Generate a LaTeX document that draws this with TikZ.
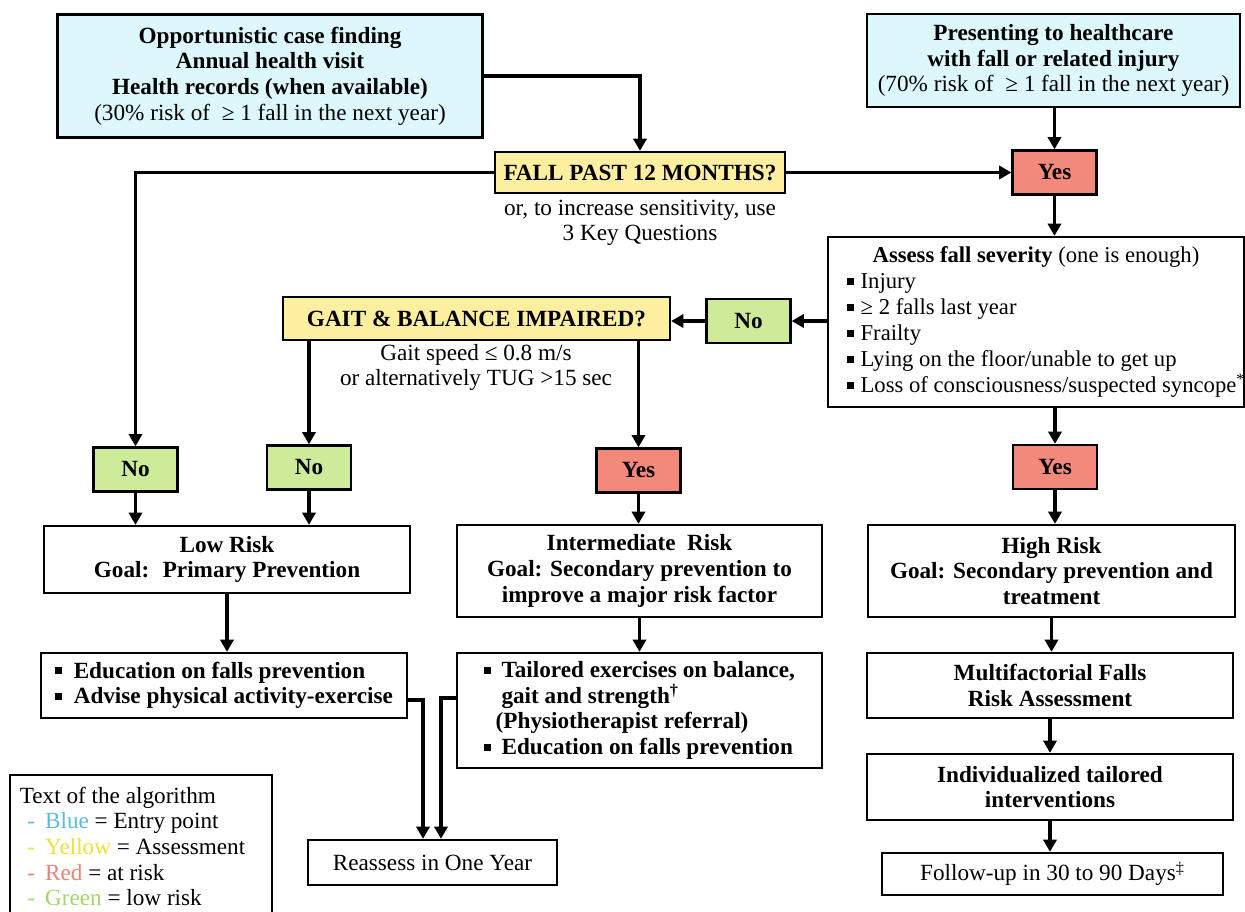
\documentclass[tikz,border=0pt]{standalone}
\usepackage{fontspec}
\setmainfont{Liberation Serif}
\usetikzlibrary{arrows.meta}
\usetikzlibrary{calc}

\definecolor{entryblue}{HTML}{DCF8FC}
\definecolor{askyellow}{HTML}{FCEFA0}
\definecolor{riskred}{HTML}{F2897B}
\definecolor{lowgreen}{HTML}{CDEB98}
\definecolor{legblue}{HTML}{5DBCDB}
\definecolor{legyellow}{HTML}{EEE03A}
\definecolor{legred}{HTML}{E5857A}
\definecolor{leggreen}{HTML}{A3D668}

\newcommand{\sqb}{\rule[0.17em]{0.3em}{0.3em}}

\begin{document}
\begin{tikzpicture}[x=0.02cm, y=-0.02cm,
    every node/.style={font=\fontsize{13.2}{14.6}\selectfont},
    box/.style={draw, line width=1.3pt, align=center, inner sep=0pt},
    entrybox/.style={box, fill=entryblue},
    askbox/.style={box, fill=askyellow},
    yesbox/.style={box, fill=riskred, minimum width=1.68cm, minimum height=0.88cm, font=\fontsize{13.2}{14.6}\selectfont\bfseries},
    nobox/.style={box, fill=lowgreen, minimum width=1.68cm, minimum height=0.88cm, font=\fontsize{13.2}{14.6}\selectfont\bfseries},
    arr/.style={line width=1.8pt, -{Triangle[length=7pt,width=7.5pt]}}]
      \useasboundingbox (0,0) rectangle (1245,912);

      % entry points
      \node[entrybox, minimum width=8.5cm, minimum height=2.46cm] (entry1) at (270,76) {\textbf{Opportunistic case finding}\\ \textbf{Annual health visit}\\ \textbf{Health records (when available)}\\ (30\% risk of \ ≥ 1 fall in the next year)};
      \node[entrybox, minimum width=7.46cm, minimum height=1.86cm] (entry2) at (1053.5,60.5) {\textbf{Presenting to healthcare}\\ \textbf{with fall or related injury}\\ (70\% risk of \ ≥ 1 fall in the next year)};

      % first question
      \node[askbox, minimum width=5.8cm, minimum height=0.82cm] (fall) at (640,172.5) {\textbf{FALL PAST 12 MONTHS?}};
      \node[align=center] (fallnote) at (640,223) {or, to increase sensitivity, use\\ 3 Key Questions};
      \node[yesbox] (yesA) at (1054.5,172.5) {Yes};

      \node[box, minimum width=8.32cm, minimum height=3.4cm, text width=7.56cm, inner xsep=0.38cm, align=flush left, font=\fontsize{12.9}{14.8}\selectfont] (assess) at (1036,322) {{\centering\textbf{Assess fall severity} (one is enough)\par}\sqb\hspace{0.3em}Injury\\ \sqb\hspace{0.3em}≥ 2 falls last year\\ \sqb\hspace{0.3em}Frailty\\ \sqb\hspace{0.3em}Lying on the floor/unable to get up\\ \mbox{\sqb\hspace{0.3em}Loss of consciousness/suspected syncope\textsuperscript{*}}};

      % second question
      \node[nobox] (noA) at (748.5,321) {No};
      \node[askbox, minimum width=7.74cm, minimum height=0.86cm] (gait) at (476.5,318.5) {\textbf{GAIT \& BALANCE IMPAIRED?}};
      \node[align=center] (gaitnote) at (476,367.5) {Gait speed ≤ 0.8 m/s\\ or alternatively TUG >15 sec};

      \node[nobox] (noB) at (135.5,469.5) {No};
      \node[nobox] (noC) at (309,467.5) {No};
      \node[yesbox] (yesB) at (638.5,470.5) {Yes};
      \node[yesbox] (yesC) at (1055,467) {Yes};

      % risk levels
      \node[box, minimum width=7.32cm, minimum height=1.34cm, font=\fontsize{13.2}{14.6}\selectfont\bfseries] (low) at (227,559.5) {Low Risk\\ Goal: \ Primary Prevention};
      \node[box, minimum width=7.3cm, minimum height=1.84cm, font=\fontsize{13.2}{14.6}\selectfont\bfseries] (inter) at (639.5,571) {Intermediate \ Risk\\ Goal: Secondary prevention to\\ improve a major risk factor};
      \node[box, minimum width=7.34cm, minimum height=1.84cm, font=\fontsize{13.2}{14.6}\selectfont\bfseries] (high) at (1051.5,571) {High Risk\\ Goal: Secondary prevention and\\ treatment};

      % actions
      \node[box, minimum width=7.32cm, minimum height=1.3cm, align=flush left, font=\fontsize{13.2}{14.6}\selectfont\bfseries] (edu) at (224,685.5) {\sqb\hspace{0.5em}Education on falls prevention\\ \sqb\hspace{0.5em}Advise physical activity-exercise};
      \node[box, minimum width=7.3cm, minimum height=2.3cm, align=flush left, font=\fontsize{13.2}{14.6}\selectfont\bfseries] (tail) at (639.5,710.5) {\sqb\hspace{0.45em}Tailored exercises on balance,\\ \hspace*{0.75em}gait and strength\textsuperscript{†}\\ \hspace*{0.5em}(Physiotherapist referral)\\ \sqb\hspace{0.45em}Education on falls prevention};
      \node[box, minimum width=7.32cm, minimum height=1.3cm, font=\fontsize{13.2}{14.6}\selectfont\bfseries] (multi) at (1050,685.5) {Multifactorial Falls\\ Risk Assessment};
      \node[box, minimum width=7.32cm, minimum height=1.32cm, font=\fontsize{13.2}{14.6}\selectfont\bfseries] (indiv) at (1050,787) {Individualized tailored\\ interventions};
      \node[box, minimum width=6.82cm, minimum height=0.84cm] (follow) at (1052.5,874) {Follow-up in 30 to 90 Days\textsuperscript{‡}};
      \node[box, minimum width=4.98cm, minimum height=0.9cm] (reassess) at (432.5,862.5) {Reassess in One Year};

      % legend
      \node[draw, line width=1pt, anchor=north west, text width=4.84cm, inner xsep=0.2cm, inner ysep=0pt, minimum height=2.86cm, align=flush left] (legend) at (9,774) {Text of the algorithm\\
        \hspace*{0.15cm}{\color{legblue}-\hspace{0.2cm}Blue} = Entry point\\
        \hspace*{0.15cm}{\color{legyellow}-\hspace{0.2cm}Yellow} = Assessment\\
        \hspace*{0.15cm}{\color{legred}-\hspace{0.2cm}Red} = at risk\\
        \hspace*{0.15cm}{\color{leggreen}-\hspace{0.2cm}Green} = low risk};

      \draw[arr] (entry1.east) -| (fall.north);
      \draw[arr] (fall.west) -| (noB.north);
      \draw[arr] (fall.east) -- (yesA.west);
      \draw[arr] (entry2.south -| yesA.north) -- (yesA.north);
      \draw[arr] (yesA.south) -- (yesA.south |- assess.north);
      \draw[arr] (assess.west |- noA.east) -- (noA.east);
      \draw[arr] (noA.west) -- (noA.west -| gait.east);
      \draw[arr] (gait.south -| noC.north) -- (noC.north);
      \draw[arr] (gait.south -| yesB.north) -- (yesB.north);
      \draw[arr] (assess.south -| yesC.north) -- (yesC.north);
      \draw[arr] (noB.south) -- (noB.south |- low.north);
      \draw[arr] (noC.south) -- (noC.south |- low.north);
      \draw[arr] (yesB.south) -- (yesB.south |- inter.north);
      \draw[arr] (yesC.south) -- (yesC.south |- high.north);
      \draw[arr] (low.south) -- (low.south |- edu.north);
      \draw[arr] (inter.south) -- (inter.south |- tail.north);
      \draw[arr] (high.south) -- (high.south |- multi.north);
      \draw[arr] (multi.south) -- (multi.south |- indiv.north);
      \draw[arr] (indiv.south) -- (indiv.south |- follow.north);
      \draw[arr] ([yshift=-0.29cm]edu.east) -| ([xshift=-0.19cm]reassess.north);
      \draw[arr] ([yshift=0.25cm]tail.west) -| ([xshift=0.17cm]reassess.north);
    \end{tikzpicture}
\end{document}
